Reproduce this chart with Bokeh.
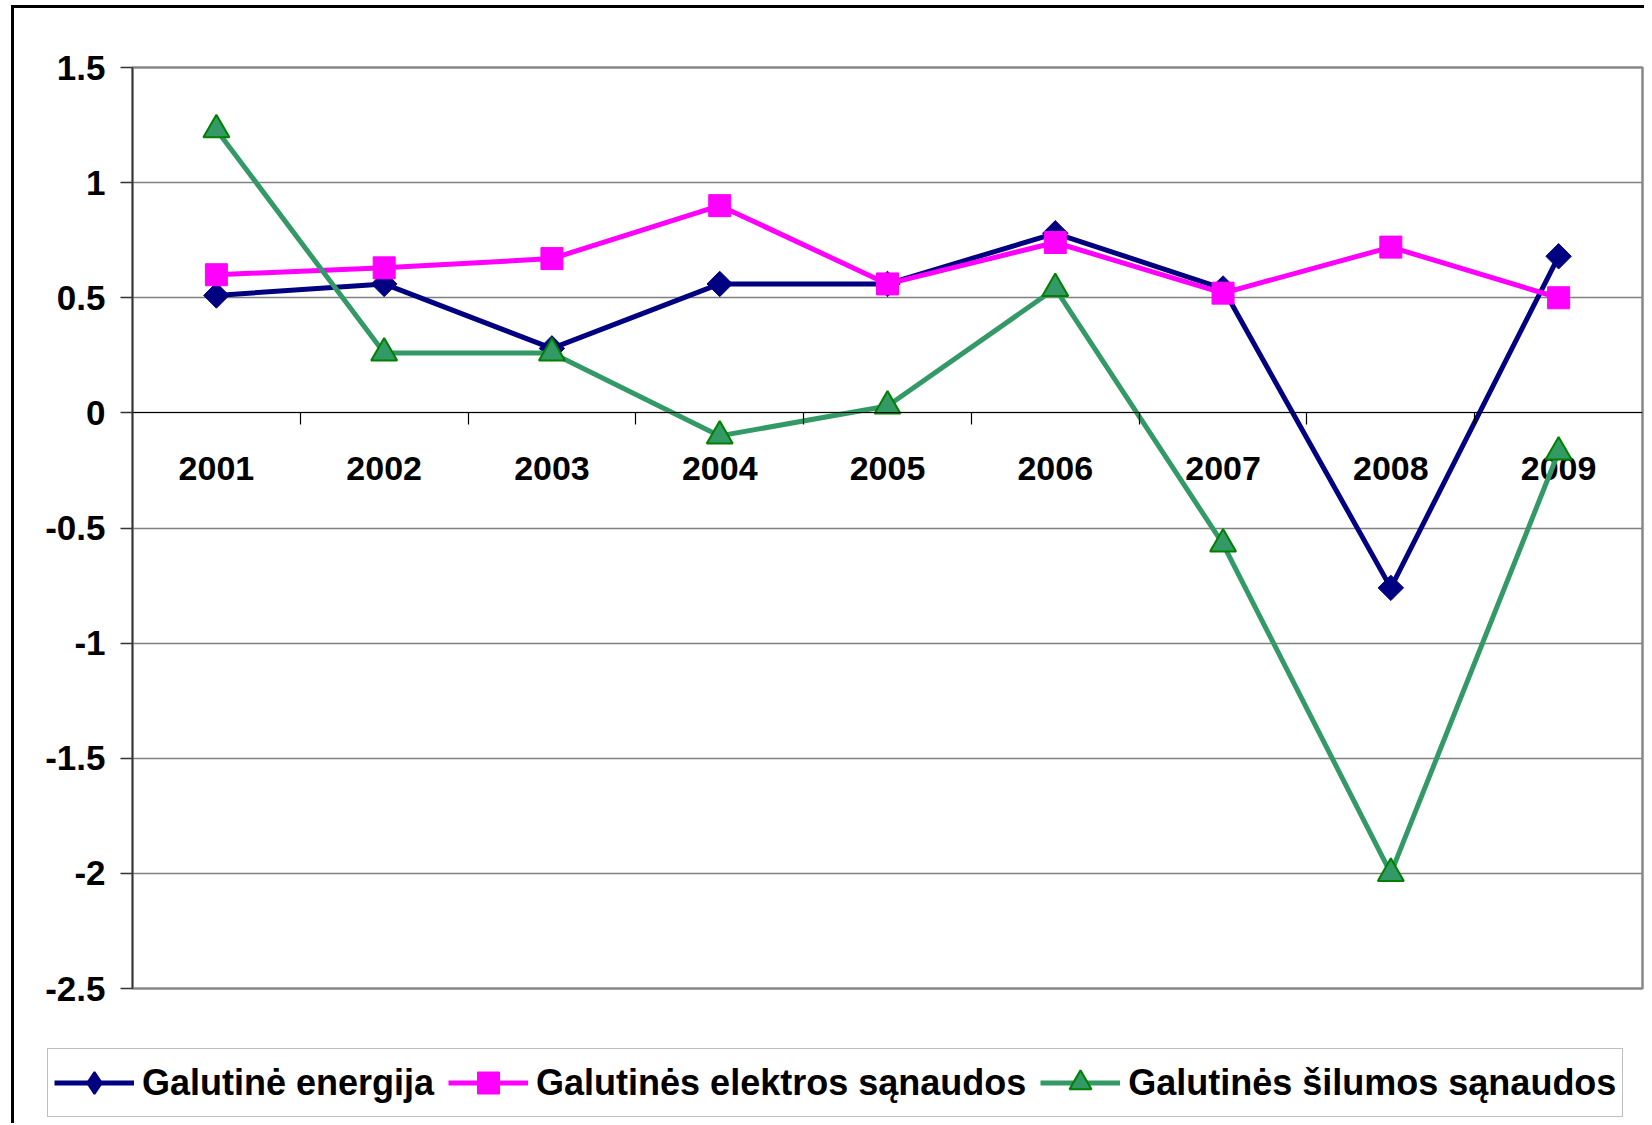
from bokeh.plotting import figure
from bokeh.layouts import column, row
from bokeh.models import (FixedTicker, Legend, LegendItem, LinearAxis, Range1d)
from bokeh.core.properties import value
from bokeh.embed import file_html
from bokeh.resources import INLINE
import math

# ---------------- data ----------------
years = ["2001", "2002", "2003", "2004", "2005", "2006", "2007", "2008", "2009"]
galutine_energija = [0.51, 0.56, 0.28, 0.56, 0.56, 0.78, 0.54, -0.76, 0.68]
elektros_sanaudos = [0.60, 0.63, 0.67, 0.90, 0.56, 0.74, 0.52, 0.72, 0.50]
silumos_sanaudos = [1.23, 0.26, 0.26, -0.10, 0.03, 0.54, -0.57, -2.00, -0.17]
series_names = ["Galutinė energija", "Galutinės elektros sąnaudos", "Galutinės šilumos sąnaudos"]
y_ticks = [-2.5, -2.0, -1.5, -1.0, -0.5, 0.0, 0.5, 1.0, 1.5]
y_tick_labels = ["-2.5", "-2", "-1.5", "-1", "-0.5", "0", "0.5", "1", "1.5"]

# category positions (1..n) and boundaries between categories
xs = [i + 1 for i in range(len(years))]
bounds = [i + 1.5 for i in range(len(years) - 1)]

FONT = "Liberation Sans"
NAVY, MAGENTA, GREEN, DKGREEN = "#000080", "#FF00FF", "#339966", "#008000"

p = figure(width=1630, height=1032, output_backend="svg", toolbar_location=None,
           x_range=Range1d(0.5, len(years) + 0.5), y_range=Range1d(y_ticks[0], y_ticks[-1]),
           x_axis_location=None, y_axis_location=None,
           min_border_left=118, min_border_right=2, min_border_top=59, min_border_bottom=52)
p.background_fill_color = "white"
p.border_fill_color = "white"
p.outline_line_color = "#888888"
p.outline_line_width = 2.5

# y axis
yax = LinearAxis(ticker=FixedTicker(ticks=y_ticks, minor_ticks=[]),
                 major_label_overrides={t: l for t, l in zip(y_ticks, y_tick_labels)})
yax.axis_line_color = "#333333"
yax.axis_line_width = 1.5
yax.major_tick_out = 12
yax.major_tick_in = 0
yax.major_tick_line_color = "#333333"
yax.major_tick_line_width = 1.5
yax.minor_tick_line_color = None
yax.major_label_text_font = FONT
yax.major_label_text_font_style = "bold"
yax.major_label_text_font_size = "35px"
yax.major_label_text_color = "black"
yax.major_label_standoff = 15
p.add_layout(yax, "left")

# x axis line + tick marks crossing at zero (labels drawn as text below)
xax = LinearAxis(ticker=FixedTicker(ticks=xs, minor_ticks=bounds), fixed_location=0,
                 major_label_overrides={x: "" for x in xs})
xax.axis_line_color = "black"
xax.axis_line_width = 1.2
xax.major_tick_line_color = None
xax.major_tick_out = 0
xax.major_tick_in = 0
xax.minor_tick_line_color = "black"
xax.minor_tick_line_width = 1.2
xax.minor_tick_out = 12
xax.minor_tick_in = 0
xax.major_label_text_font_size = "1px"
xax.major_label_standoff = 0
p.add_layout(xax, "below")

# grid
p.ygrid.ticker = FixedTicker(ticks=y_ticks)
p.ygrid.grid_line_color = "#808080"
p.ygrid.grid_line_width = 1.5
p.xgrid.visible = False

# category labels next to the zero axis
p.text(xs, [0] * len(xs), text=years, y_offset=56, text_align="center", text_baseline="middle",
       text_font=value(FONT), text_font_style="bold", text_font_size="34px", text_color="black")

# series 1: navy diamonds
l1 = p.line(xs, galutine_energija, line_color=NAVY, line_width=5)
m1 = p.scatter(xs, galutine_energija, marker="square", angle=math.pi / 4, size=18,
               fill_color=NAVY, line_color=NAVY)
# series 2: magenta squares
l2 = p.line(xs, elektros_sanaudos, line_color=MAGENTA, line_width=5)
m2 = p.scatter(xs, elektros_sanaudos, marker="square", size=22,
               fill_color=MAGENTA, line_color=MAGENTA)
# series 3: green triangles
l3 = p.line(xs, silumos_sanaudos, line_color=GREEN, line_width=5)
m3 = p.scatter(xs, silumos_sanaudos, marker="triangle", size=26,
               fill_color=GREEN, line_color=DKGREEN, line_width=2)

# ---------------- legend strip ----------------
lf = figure(width=1630, height=83, output_backend="svg", toolbar_location=None,
            x_range=Range1d(0, 1), y_range=Range1d(0, 1),
            x_axis_location=None, y_axis_location=None,
            min_border_left=0, min_border_right=0, min_border_top=0, min_border_bottom=0)
lf.outline_line_color = None
lf.grid.visible = False
lf.background_fill_color = "white"
lf.border_fill_color = "white"

# legend-only copies of the series styles (hidden in this strip)
g1 = [lf.line(xs, galutine_energija, line_color=NAVY, line_width=5, visible=False),
      lf.scatter(xs, galutine_energija, marker="diamond", size=18,
                 fill_color=NAVY, line_color=NAVY, line_width=2, visible=False)]
g2 = [lf.line(xs, elektros_sanaudos, line_color=MAGENTA, line_width=5, visible=False),
      lf.scatter(xs, elektros_sanaudos, marker="square", size=22,
                 fill_color=MAGENTA, line_color=MAGENTA, visible=False)]
g3 = [lf.line(xs, silumos_sanaudos, line_color=GREEN, line_width=5, visible=False),
      lf.scatter(xs, silumos_sanaudos, marker="triangle", size=26,
                 fill_color=GREEN, line_color=DKGREEN, line_width=2, visible=False)]
items = [LegendItem(label=series_names[0], renderers=g1),
         LegendItem(label=series_names[1], renderers=g2),
         LegendItem(label=series_names[2], renderers=g3)]

legend = Legend(items=items, orientation="horizontal", location=(33, 6))
legend.label_text_font = FONT
legend.label_text_font_style = "bold"
legend.label_text_font_size = "36px"
legend.label_text_color = "black"
legend.glyph_width = 80
legend.glyph_height = 55
legend.label_height = 40
legend.label_standoff = 8
legend.spacing = 14
legend.padding = 6
legend.margin = 0
legend.border_line_color = "#808080"
legend.border_line_width = 1.5
legend.background_fill_color = "white"
legend.background_fill_alpha = 1.0
lf.add_layout(legend)

layout = column(p, row(lf, spacing=0), spacing=0, margin=(5, 0, 0, 11),
                styles={"border-left": "3px solid black", "border-top": "3px solid black"})

open("out.html", "w").write(file_html(layout, INLINE))
